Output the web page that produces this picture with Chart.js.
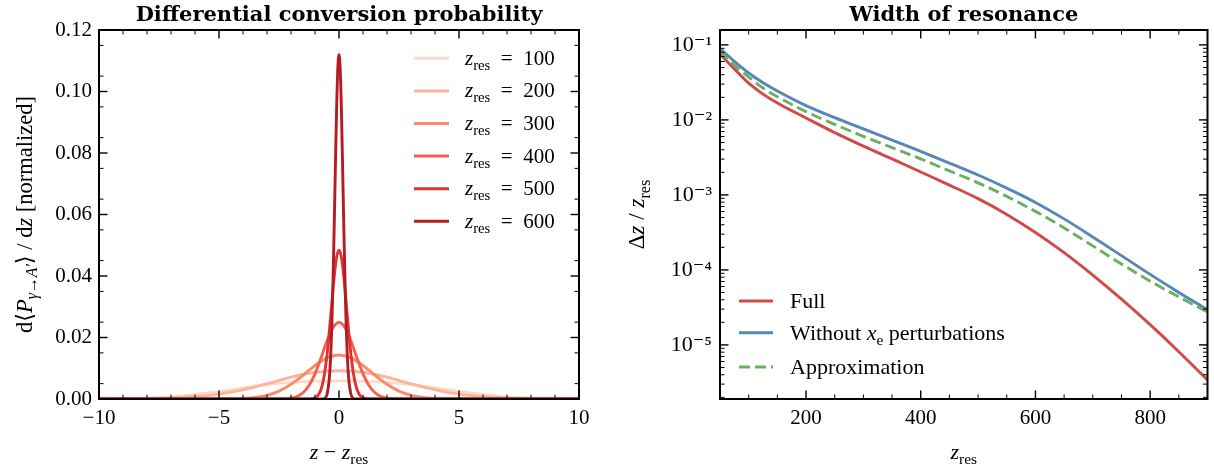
<!DOCTYPE html>
<html><head><meta charset="utf-8">
<script src="https://cdn.jsdelivr.net/npm/chart.js@4/dist/chart.umd.min.js"></script>
<style>
html,body{margin:0;padding:0;background:#fff;width:1214px;height:472px;overflow:hidden}
canvas{position:absolute;top:0}
#c1{left:0}
#c2{left:607px}
</style></head><body>
<canvas id="c1" width="607" height="472"></canvas>
<canvas id="c2" width="607" height="472"></canvas>
<script>
// ===== Left panel: differential conversion probability =====
const zResValues = [100, 200, 300, 400, 500, 600];

const dz100 = [-10,-9,-8,-7,-6,-5,-4,-3,-2,-1,0,1,2,3,4,5,6,7,8,9,10];
const p100  = [0.00003,0.00012,0.0003,0.0007,0.0015,0.0025,0.0036,0.0047,0.0054,0.0058,0.0059,0.0058,0.0054,0.0047,0.0036,0.0025,0.0015,0.0007,0.0003,0.00012,0.00003];

const dz200 = [-10,-9,-8,-7,-6,-5,-4,-3,-2,-1,0,1,2,3,4,5,6,7,8,9,10];
const p200  = [0,0.00003,0.00012,0.00035,0.0008,0.0016,0.0030,0.0049,0.0071,0.0087,0.0092,0.0087,0.0071,0.0049,0.0030,0.0016,0.0008,0.00035,0.00012,0.00003,0];

const dz300 = [-10,-6,-5,-4.5,-4,-3.5,-3,-2.5,-2,-1.5,-1,-0.5,0,0.5,1,1.5,2,2.5,3,3.5,4,4.5,5,6,10];
const p300  = [0,0,0.00002,0.00006,0.00018,0.0005,0.00121,0.00257,0.00477,0.00771,0.01087,0.01335,0.0143,0.01335,0.01087,0.00771,0.00477,0.00257,0.00121,0.0005,0.00018,0.00006,0.00002,0,0];

const dz400 = [-10,-3,-2.5,-2,-1.75,-1.5,-1.25,-1,-0.75,-0.5,-0.25,0,0.25,0.5,0.75,1,1.25,1.5,1.75,2,2.5,3,10];
const p400  = [0,0,0.00002,0.00029,0.00082,0.00203,0.00437,0.00818,0.01331,0.01885,0.02323,0.0249,0.02323,0.01885,0.01331,0.00818,0.00437,0.00203,0.00082,0.00029,0.00002,0,0];

const dz500 = [-10,-1.5,-1.2,-1,-0.9,-0.8,-0.7,-0.6,-0.5,-0.4,-0.3,-0.2,-0.1,0,0.1,0.2,0.3,0.4,0.5,0.6,0.7,0.8,0.9,1,1.2,1.5,10];
const p500  = [0,0,0.00004,0.00037,0.00093,0.00213,0.00442,0.00834,0.01428,0.0222,0.0312,0.0398,0.0461,0.0484,0.0461,0.0398,0.0312,0.0222,0.01428,0.00834,0.00442,0.00213,0.00093,0.00037,0.00004,0,0];

const dz600 = [-10,-0.9,-0.7,-0.6,-0.5,-0.4,-0.35,-0.3,-0.25,-0.2,-0.15,-0.1,-0.05,0,0.05,0.1,0.15,0.2,0.25,0.3,0.35,0.4,0.5,0.6,0.7,0.9,10];
const p600  = [0,0,0.00002,0.00022,0.00148,0.00703,0.01345,0.0236,0.0380,0.0561,0.0759,0.0942,0.1073,0.112,0.1073,0.0942,0.0759,0.0561,0.0380,0.0236,0.01345,0.00703,0.00148,0.00022,0.00002,0,0];

const leftXTicks = [-10, -5, 0, 5, 10];
const leftYTicks = [0, 0.02, 0.04, 0.06, 0.08, 0.10, 0.12];

// ===== Right panel: width of resonance =====
const zRes = [50,75,100,125,150,200,250,300,350,400,450,500,550,600,650,700,750,800,850,900];
const widthFull   = [0.0759,0.0479,0.0309,0.0221,0.0168,0.0106,0.00676,0.00447,0.00302,0.00202,0.00135,0.000891,0.000550,0.000316,0.000170,0.0000851,0.0000407,0.0000186,0.0000081,0.0000034];
const widthNoXe   = [0.0891,0.0603,0.0422,0.0313,0.0243,0.0155,0.0107,0.00759,0.00537,0.00380,0.00266,0.00184,0.00123,0.000794,0.000479,0.000275,0.000155,0.0000871,0.0000501,0.0000295];
const widthApprox = [0.0832,0.0537,0.0372,0.0266,0.0204,0.0129,0.00871,0.00603,0.00427,0.00302,0.00209,0.00145,0.000955,0.000603,0.000363,0.000209,0.000120,0.0000708,0.0000437,0.0000275];
const rightSeriesNames = ['Full', 'Without x_e perturbations', 'Approximation'];

const rightXTicks = [200, 400, 600, 800];
const rightYTicks = [1e-5, 1e-4, 1e-3, 1e-2, 1e-1];

// ===== styling =====
const SERIF = '"Liberation Serif","DejaVu Serif","Times New Roman",serif';
const TITLE_FONT = '"DejaVu Serif","Liberation Serif",serif';
const leftColors = ['#fddbcb', '#fcb49b', '#fc8a6e', '#f5624b', '#dd3430', '#b41c24'];
const rightColors = ['#d14a4a', '#5787b5', '#6aaf62'];
const SUP = {'-':'\u207B','0':'\u2070','1':'\u00B9','2':'\u00B2','3':'\u00B3','4':'\u2074','5':'\u2075','6':'\u2076','7':'\u2077','8':'\u2078','9':'\u2079'};

function pts(xs, ys) { return xs.map((x, i) => ({x: x, y: ys[i]})); }

function drawRuns(ctx, runs, x, y, size, align, family) {
  const fam = family || SERIF;
  const items = runs.map(r => {
    const s = (r.sub || r.sup) ? size * 0.7 : size;
    const font = (r.b ? 'bold ' : '') + (r.it ? 'italic ' : '') + s + 'px ' + fam;
    ctx.font = font;
    return {r, font, w: ctx.measureText(r.t).width, dy: r.sub ? size * 0.24 : (r.sup ? -size * 0.38 : 0)};
  });
  const total = items.reduce((a, b) => a + b.w, 0);
  let cx = align === 'left' ? x : (align === 'right' ? x - total : x - total / 2);
  ctx.textBaseline = 'alphabetic';
  ctx.textAlign = 'left';
  items.forEach(it => { ctx.font = it.font; ctx.fillText(it.r.t, cx, y + it.dy); cx += it.w; });
}

function decor(o) {
  return {
    id: 'decor',
    afterDatasetsDraw(chart) {
      const ctx = chart.ctx, a = chart.chartArea, sx = chart.scales.x, sy = chart.scales.y;
      ctx.save();
      ctx.strokeStyle = '#000';
      const seg = (x1, y1, x2, y2) => { ctx.beginPath(); ctx.moveTo(x1, y1); ctx.lineTo(x2, y2); ctx.stroke(); };
      const xt = (vals, len, w) => { ctx.lineWidth = w; vals.forEach(v => { const p = sx.getPixelForValue(v); if (p < a.left + 1 || p > a.right - 1) return; seg(p, a.bottom, p, a.bottom - len); seg(p, a.top, p, a.top + len); }); };
      const yt = (vals, len, w) => { ctx.lineWidth = w; vals.forEach(v => { const p = sy.getPixelForValue(v); if (p < a.top + 1 || p > a.bottom - 1) return; seg(a.left, p, a.left + len, p); seg(a.right, p, a.right - len, p); }); };
      xt(o.xMinor, 4.5, 1); yt(o.yMinor, 4.5, 1);
      xt(o.xMajor, 8.5, 1.4); yt(o.yMajor, 8.5, 1.4);
      ctx.lineWidth = 2;
      ctx.strokeRect(a.left, a.top, a.right - a.left, a.bottom - a.top);
      ctx.restore();
    }
  };
}

function textPlugin(fn) { return {id: 'texts', afterDraw(chart) { const ctx = chart.ctx; ctx.save(); ctx.fillStyle = '#000'; fn(chart, ctx); ctx.restore(); }}; }

const tickFont = {family: SERIF, size: 21};
const EQ = '\u2002=\u2002';

// ---- left chart ----
const leftData = [[dz100,p100],[dz200,p200],[dz300,p300],[dz400,p400],[dz500,p500],[dz600,p600]];
const leftDatasets = zResValues.map((z, i) => ({
  label: 'z_res = ' + z,
  data: pts(leftData[i][0], leftData[i][1]),
  borderColor: leftColors[i], backgroundColor: leftColors[i],
  borderWidth: 2.9, pointRadius: 0, fill: false,
  cubicInterpolationMode: 'monotone', order: 6 - i
}));

const leftXMinor = [], leftYMinor = [];
for (let v = -9; v <= 9; v++) if (v % 5 !== 0) leftXMinor.push(v);
for (let k = 1; k < 24; k += 2) leftYMinor.push(k * 0.005);

new Chart(document.getElementById('c1'), {
  type: 'line',
  data: {datasets: leftDatasets},
  options: {
    responsive: false, animation: false, devicePixelRatio: 1, events: [],
    layout: {padding: {left: 0, right: 28, top: 30, bottom: 0}},
    plugins: {legend: {display: false}, title: {display: false}, tooltip: {enabled: false}},
    scales: {
      x: {type: 'linear', min: -10, max: 10,
        afterBuildTicks: s => { s.ticks = leftXTicks.map(v => ({value: v})); },
        afterFit: s => { s.height = 73; },
        grid: {display: false, drawTicks: false}, border: {display: false},
        ticks: {padding: 7, autoSkip: false, maxRotation: 0, font: tickFont, color: '#000',
          callback: v => v < 0 ? '\u2212' + Math.abs(v) : String(v)}},
      y: {type: 'linear', min: 0, max: 0.12,
        afterBuildTicks: s => { s.ticks = leftYTicks.map(v => ({value: v})); },
        afterFit: s => { s.width = 99; },
        grid: {display: false, drawTicks: false}, border: {display: false},
        ticks: {padding: 7, autoSkip: false, font: tickFont, color: '#000', callback: v => Number(v).toFixed(2)}}
    }
  },
  plugins: [
    decor({xMajor: leftXTicks, xMinor: leftXMinor, yMajor: leftYTicks, yMinor: leftYMinor}),
    textPlugin((chart, ctx) => {
      const a = chart.chartArea, cx = (a.left + a.right) / 2;
      drawRuns(ctx, [{t: 'Differential conversion probability', b: 1}], cx, 21, 21, 'center', TITLE_FONT);
      drawRuns(ctx, [{t: 'z', it: 1}, {t: ' \u2212 '}, {t: 'z', it: 1}, {t: 'res', sub: 1}], cx, 459, 22, 'center');
      ctx.save();
      ctx.translate(32, (a.top + a.bottom) / 2);
      ctx.rotate(-Math.PI / 2);
      drawRuns(ctx, [{t: 'd\u27E8'}, {t: 'P', it: 1}, {t: '\u03B3', it: 1, sub: 1}, {t: '\u2192', sub: 1}, {t: 'A\u2032', it: 1, sub: 1}, {t: '\u27E9 / d'}, {t: 'z', it: 1}, {t: ' [normalized]'}], 0, 0, 22.5, 'center');
      ctx.restore();
      chart.data.datasets.forEach((ds, i) => {
        const yy = 58.3 + i * 32.6;
        ctx.strokeStyle = ds.borderColor; ctx.lineWidth = 3;
        ctx.beginPath(); ctx.moveTo(414, yy); ctx.lineTo(449, yy); ctx.stroke();
        drawRuns(ctx, [{t: 'z', it: 1}, {t: 'res', sub: 1}, {t: EQ + zResValues[i]}], 465, yy + 6.5, 21, 'left');
      });
    })
  ]
});

// ---- right chart ----
const rightData = [widthFull, widthNoXe, widthApprox];
const rightDatasets = rightSeriesNames.map((name, i) => ({
  label: name,
  data: pts(zRes, rightData[i]),
  borderColor: rightColors[i], backgroundColor: rightColors[i],
  borderWidth: 2.9, pointRadius: 0, fill: false,
  borderDash: i === 2 ? [11, 5] : [],
  cubicInterpolationMode: 'monotone', order: 3 - i
}));

const rightXMinor = [];
for (let v = 100; v <= 850; v += 50) if (v % 200 !== 0) rightXMinor.push(v);
const rightYMinor = [];
for (let n = -6; n <= -1; n++) for (let k = 2; k <= 9; k++) rightYMinor.push(k * Math.pow(10, n));

new Chart(document.getElementById('c2'), {
  type: 'line',
  data: {datasets: rightDatasets},
  options: {
    responsive: false, animation: false, devicePixelRatio: 1, events: [],
    layout: {padding: {left: 0, right: 6.5, top: 30, bottom: 0}},
    plugins: {legend: {display: false}, title: {display: false}, tooltip: {enabled: false}},
    scales: {
      x: {type: 'linear', min: 50, max: 900,
        afterBuildTicks: s => { s.ticks = rightXTicks.map(v => ({value: v})); },
        afterFit: s => { s.height = 73; },
        grid: {display: false, drawTicks: false}, border: {display: false},
        ticks: {padding: 7, autoSkip: false, maxRotation: 0, font: tickFont, color: '#000'}},
      y: {type: 'logarithmic', min: 1.9e-6, max: 0.158,
        afterBuildTicks: s => { s.ticks = rightYTicks.map(v => ({value: v})); },
        afterFit: s => { s.width = 113; },
        grid: {display: false, drawTicks: false}, border: {display: false},
        ticks: {padding: 8, autoSkip: false, font: {family: SERIF, size: 22}, color: '#000',
          callback: v => '10' + String(Math.round(Math.log10(v))).split('').map(c => SUP[c]).join('')}}
    }
  },
  plugins: [
    decor({xMajor: rightXTicks, xMinor: rightXMinor, yMajor: rightYTicks, yMinor: rightYMinor}),
    textPlugin((chart, ctx) => {
      const a = chart.chartArea, cx = (a.left + a.right) / 2;
      drawRuns(ctx, [{t: 'Width of resonance', b: 1}], cx, 21, 21, 'center', TITLE_FONT);
      drawRuns(ctx, [{t: 'z', it: 1}, {t: 'res', sub: 1}], cx, 459, 22, 'center');
      ctx.save();
      ctx.translate(37, (a.top + a.bottom) / 2);
      ctx.rotate(-Math.PI / 2);
      drawRuns(ctx, [{t: '\u0394'}, {t: 'z', it: 1}, {t: ' / '}, {t: 'z', it: 1}, {t: 'res', sub: 1}], 0, 0, 23, 'center');
      ctx.restore();
      const rows = [301, 332.7, 367];
      const legendRuns = [
        [{t: 'Full'}],
        [{t: 'Without '}, {t: 'x', it: 1}, {t: 'e', sub: 1}, {t: ' perturbations'}],
        [{t: 'Approximation'}]
      ];
      chart.data.datasets.forEach((ds, i) => {
        const yy = rows[i];
        ctx.strokeStyle = ds.borderColor; ctx.lineWidth = 3;
        ctx.setLineDash(ds.borderDash && ds.borderDash.length ? ds.borderDash : []);
        ctx.beginPath(); ctx.moveTo(132, yy); ctx.lineTo(166, yy); ctx.stroke();
        ctx.setLineDash([]);
        drawRuns(ctx, legendRuns[i], 183, yy + 7, 22, 'left');
      });
    })
  ]
});
</script>
</body></html>
